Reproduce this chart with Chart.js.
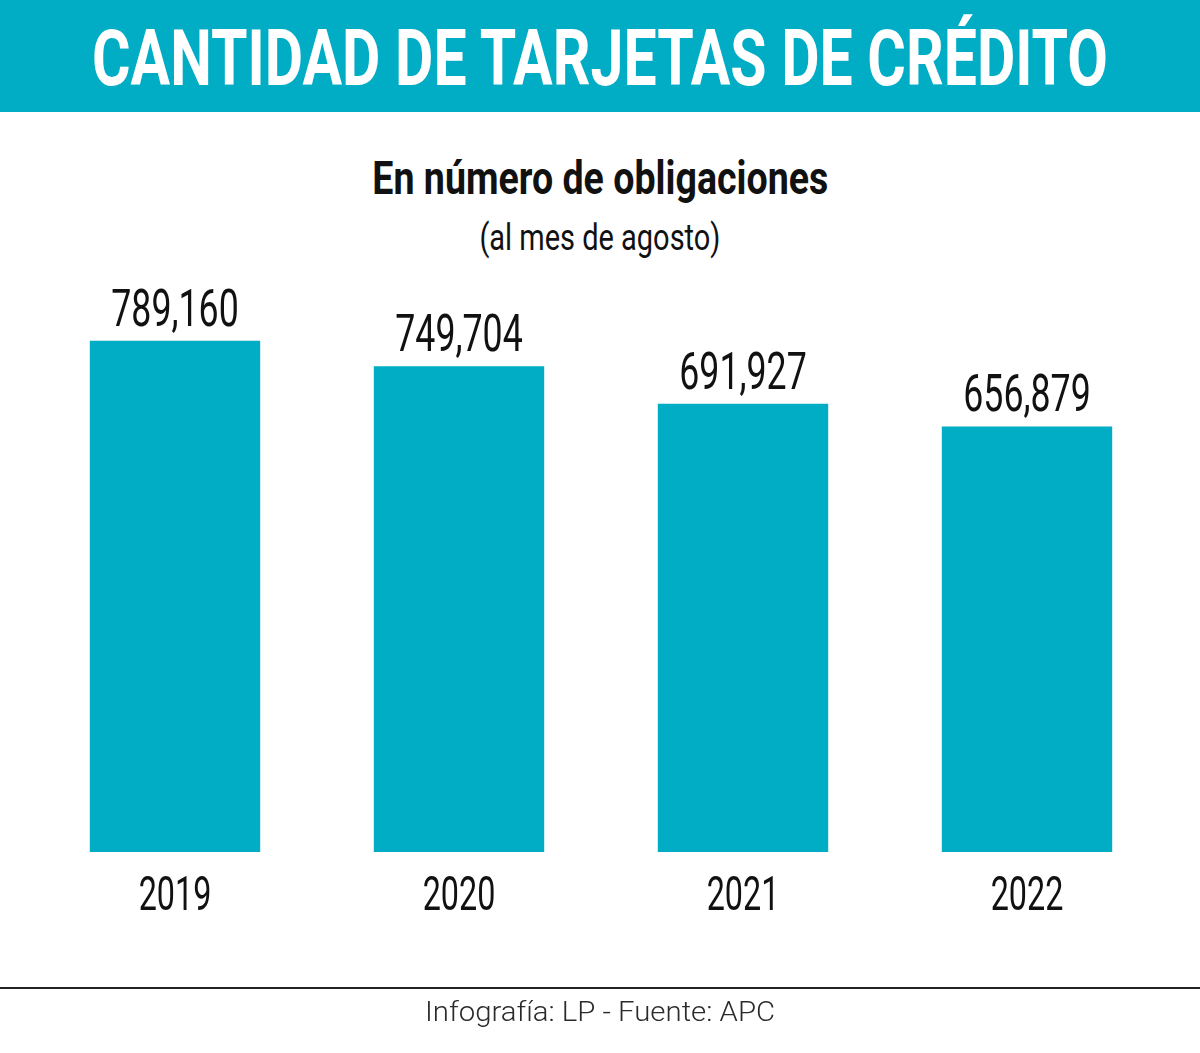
<!DOCTYPE html>
<html lang="es">
<head>
  <meta charset="UTF-8">
  <title>Cantidad de tarjetas de crédito</title>
  <style>
    html, body { margin: 0; padding: 0; background: #fff; }
    body { width: 1200px; height: 1053px; position: relative; overflow: hidden; font-family: Roboto, "Noto Sans", sans-serif; }
    .header { position: absolute; left: 0; top: 0; width: 1200px; height: 112px; background: #00adc4; }
    /* wide box centred on x=600 so long lines do not overflow to one side */
    .txt { position: absolute; left: -400px; width: 2000px; text-align: center; white-space: nowrap; }
    .txt span { display: inline-block; transform-origin: center center; }
    #title { top: 14px; color: #fff; font-weight: 700; font-size: 78px; line-height: 90px; }
    #sub1 { top: 148px; color: #111; font-weight: 700; font-size: 47px; line-height: 60px; }
    #sub2 { top: 214px; color: #111; font-weight: 400; font-size: 37px; line-height: 48px; }
    #source { top: 994px; color: #2a2a2a; font-weight: 300; font-size: 28px; line-height: 36px; }
    .rule { position: absolute; left: 0; top: 987px; width: 1200px; height: 2px; background: #222; }
    .chart-box { position: absolute; left: 0; top: 0; width: 1200px; height: 1053px; }
  </style>
</head>
<body>
  <div class="header"></div>
  <div class="txt" id="title"><span data-w="1016">CANTIDAD DE TARJETAS DE CRÉDITO</span></div>
  <div class="txt" id="sub1"><span data-w="456">En número de obligaciones</span></div>
  <div class="txt" id="sub2"><span data-w="241">(al mes de agosto)</span></div>
  <div class="chart-box"><canvas id="cards"></canvas></div>
  <div class="rule"></div>
  <div class="txt" id="source"><span data-w="350">Infografía: LP - Fuente: APC</span></div>

  <script src="https://cdn.jsdelivr.net/npm/chart.js"></script>
  <script>
    const years = ['2019', '2020', '2021', '2022'];
    const cardCounts = [789160, 749704, 691927, 656879];
    const valueLabels = ['789,160', '749,704', '691,927', '656,879'];

    // squeeze the html titles to the condensed width of the original
    document.querySelectorAll('.txt span').forEach(function (el) {
      const w = el.getBoundingClientRect().width;
      el.style.transform = 'scaleX(' + (el.dataset.w / w) + ')';
    });

    // labels drawn by hand: value above the bar, year under it
    const barLabels = {
      id: 'barLabels',
      afterDatasetsDraw(chart) {
        const { ctx } = chart;
        const meta = chart.getDatasetMeta(0);
        ctx.save();
        ctx.fillStyle = '#111';
        ctx.textAlign = 'center';
        ctx.textBaseline = 'alphabetic';
        meta.data.forEach(function (bar, i) {
          ctx.save();
          ctx.translate(bar.x, bar.y - 15);
          ctx.scale(0.7, 1);
          ctx.font = '400 51px Roboto';
          ctx.fillText(valueLabels[i], 0, 0);
          ctx.restore();

          ctx.save();
          ctx.translate(bar.x, chart.chartArea.bottom + 58);
          ctx.scale(0.66, 1);
          ctx.font = '400 49px Roboto';
          ctx.fillText(chart.data.labels[i], 0, 0);
          ctx.restore();
        });
        ctx.restore();
      }
    };

    new Chart(document.getElementById('cards'), {
      type: 'bar',
      data: {
        labels: years,
        datasets: [{
          data: cardCounts,
          backgroundColor: '#00adc4',
          borderWidth: 0,
          categoryPercentage: 1,
          barPercentage: 0.6
        }]
      },
      options: {
        responsive: true,
        maintainAspectRatio: false,
        animation: false,
        layout: { padding: { top: 269, bottom: 201, left: 33, right: 31 } },
        scales: {
          x: { display: false },
          y: { display: false, min: 0, max: 900000 }
        },
        plugins: {
          legend: { display: false },
          tooltip: { enabled: false }
        }
      },
      plugins: [barLabels]
    });
  </script>
</body>
</html>
